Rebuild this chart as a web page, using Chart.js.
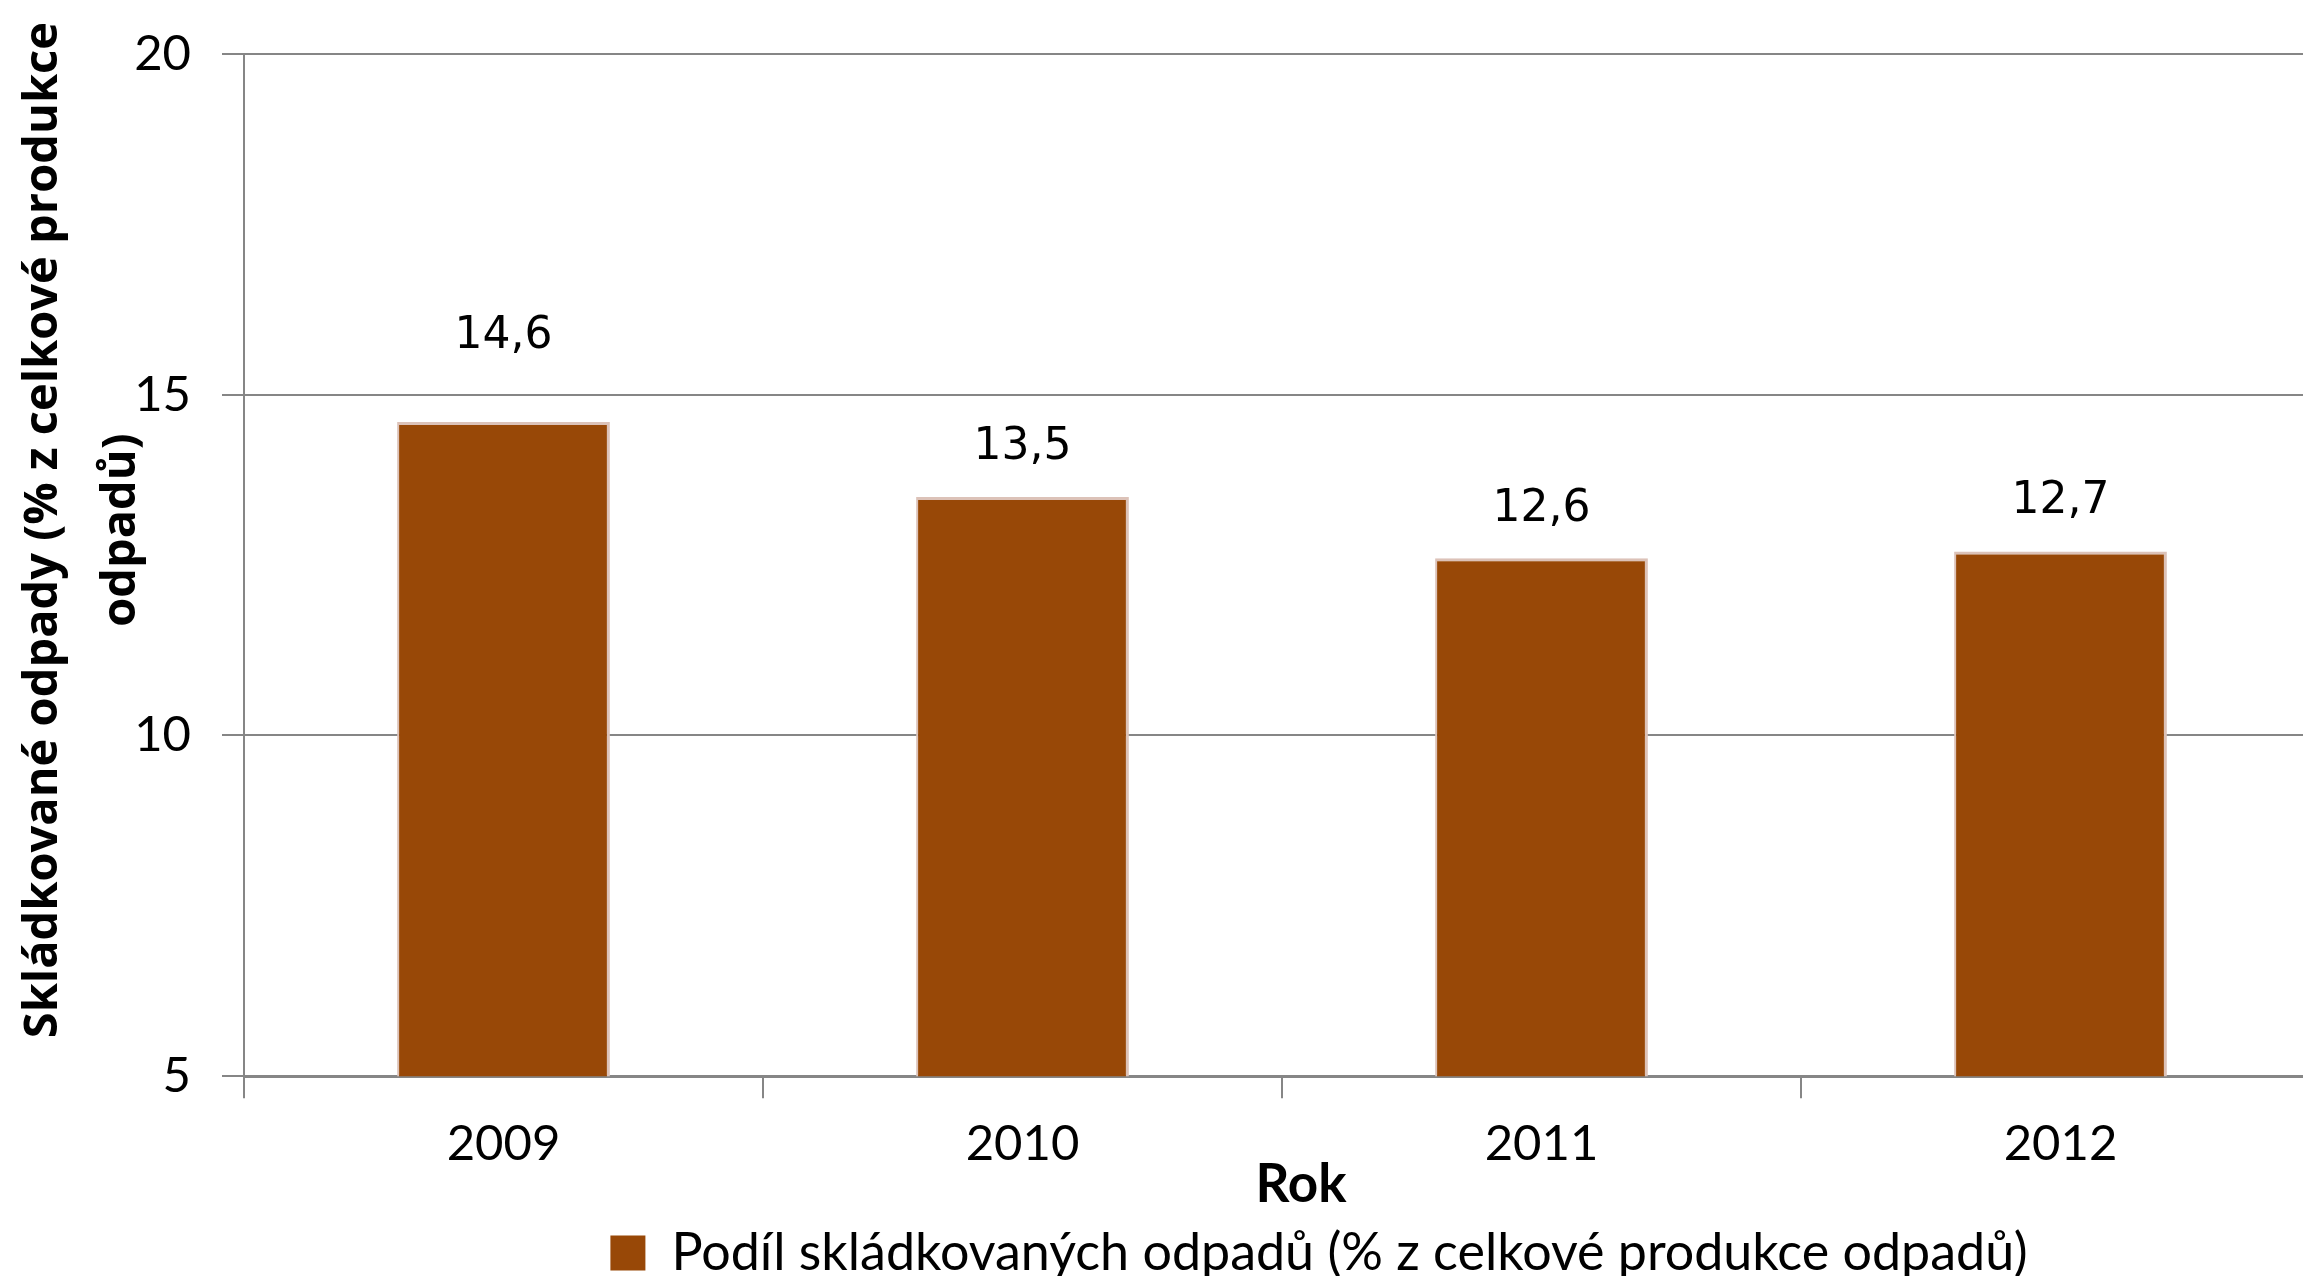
<!DOCTYPE html>
<html>
<head>
<meta charset="utf-8">
<script src="https://cdn.jsdelivr.net/npm/chart.js@4.4.1/dist/chart.umd.min.js"></script>
<style>
  html, body { margin: 0; padding: 0; background: #ffffff; overflow: hidden; width: 2303px; height: 1276px; }
  #wrap { position: absolute; left: 0; top: 0; }
  canvas { display: block; }
</style>
</head>
<body>
<div id="wrap"><canvas id="c" width="2330" height="1276" style="width:2330px;height:1276px"></canvas></div>
<script>
const categories = ['2009', '2010', '2011', '2012'];
const seriesValues = [14.6, 13.5, 12.6, 12.7];
const seriesName = 'Podíl skládkovaných odpadů (% z celkové produkce odpadů)';
const yTitleLines = ['Skládkované odpady (% z celkové produkce', 'odpadů)'];
const xTitle = 'Rok';
const yMin = 5, yMax = 20, yStep = 5;

const barColor = '#984807';
const barEdgeColor = '#dcc2b8';
const gridColor = '#868686';

const valueLabels = {
  id: 'valueLabels',
  afterDatasetsDraw(chart, args, opts) {
    const ctx = chart.ctx;
    const meta = chart.getDatasetMeta(0);
    const data = chart.data.datasets[0].data;
    ctx.save();
    ctx.font = opts.font;
    ctx.fillStyle = '#000000';
    ctx.textAlign = 'center';
    ctx.textBaseline = 'alphabetic';
    meta.data.forEach((bar, i) => {
      const txt = data[i].toFixed(1).replace('.', ',');
      ctx.fillText(txt, bar.x, bar.y - opts.gaps[i]);
    });
    ctx.restore();
  }
};

const legendShift = {
  id: 'legendShift',
  afterLayout(chart, args, opts) {
    const lg = chart.legend;
    if (lg) { lg.left += opts.dx; lg.right += opts.dx; }
  }
};

const titleNudge = {
  id: 'titleNudge',
  afterLayout(chart, args, opts) {
    Object.keys(opts).forEach((id) => {
      const s = chart.scales[id];
      const d = opts[id];
      if (!s || s._nudged || typeof d !== 'object') return;
      const orig = s.drawTitle.bind(s);
      s.drawTitle = function () {
        const ctx = this.ctx;
        ctx.save();
        ctx.translate(d.dx || 0, d.dy || 0);
        orig();
        ctx.restore();
      };
      s._nudged = true;
    });
  }
};

new Chart(document.getElementById('c'), {
  type: 'bar',
  data: {
    labels: categories,
    datasets: [{
      label: seriesName,
      data: seriesValues,
      backgroundColor: barColor,
      borderColor: barEdgeColor,
      borderWidth: { top: 3, right: 3, left: 2, bottom: 0 },
      borderSkipped: false,
      categoryPercentage: 1.0,
      barPercentage: 0.41
    }]
  },
  plugins: [valueLabels, legendShift, titleNudge],
  options: {
    responsive: false,
    animation: false,
    devicePixelRatio: 1,
    layout: { padding: { top: 54, right: 10, bottom: -13, left: 0 } },
    plugins: {
      tooltip: { enabled: false },
      title: { display: false },
      legend: {
        display: true,
        position: 'bottom',
        labels: {
          color: '#000000',
          font: { family: 'Lato', size: 52, lineHeight: 1.0 },
          boxWidth: 35,
          boxHeight: 35,
          padding: 0,
          generateLabels(chart) {
            const ds = chart.data.datasets[0];
            return [{ text: ds.label, fillStyle: ds.backgroundColor, strokeStyle: ds.backgroundColor, lineWidth: 0, hidden: false, datasetIndex: 0 }];
          }
        }
      },
      valueLabels: { font: '44px "DejaVu Sans"', gaps: [74, 38, 37, 38] },
      legendShift: { dx: 159 },
      titleNudge: { x: { dx: 19, dy: 0 }, y: { dx: 0, dy: -35 } }
    },
    scales: {
      x: {
        grid: { display: true, drawOnChartArea: false, drawTicks: true, tickLength: 22, color: gridColor, lineWidth: 2, offset: true },
        border: { display: true, color: gridColor, width: 3 },
        ticks: { color: '#000000', font: { family: 'Lato', size: 49, lineHeight: 1.0 }, padding: 22 },
        title: { display: true, text: xTitle, color: '#000000', font: { family: 'Lato', weight: 'bold', size: 53, lineHeight: 0.6 }, padding: { top: -22, bottom: 26 } }
      },
      y: {
        min: yMin, max: yMax,
        ticks: { stepSize: yStep, color: '#000000', font: { family: 'Lato', size: 49, lineHeight: 0.8 }, padding: 31 },
        grid: { color: gridColor, lineWidth: 2, tickLength: 22 },
        border: { display: true, color: gridColor, width: 2 },
        title: { display: true, text: yTitleLines, color: '#000000', font: { family: 'Open Sans', weight: 'bold', size: 47, lineHeight: 78 / 47 }, padding: { top: 5, bottom: 0 } },
        afterFit(scale) { scale.width = 244; }
      }
    }
  }
});
</script>
</body>
</html>
